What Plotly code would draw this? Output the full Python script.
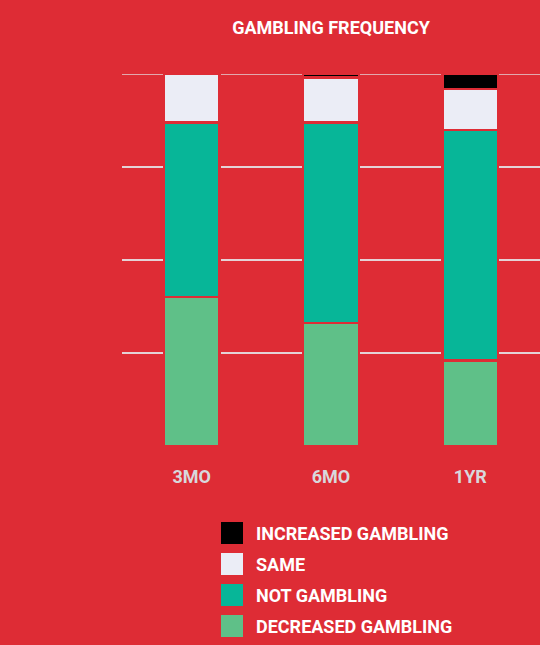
import plotly.graph_objects as go

# Survey follow-up periods
periods = ["3MO", "6MO", "1YR"]

# Share of respondents (%) in each gambling-frequency group
decreased_gambling = [40, 33, 23]
not_gambling = [47, 54, 62]
same = [13, 12, 11]
increased_gambling = [0, 1, 4]

series_names = ["DECREASED GAMBLING", "NOT GAMBLING", "SAME", "INCREASED GAMBLING"]
series_values = [decreased_gambling, not_gambling, same, increased_gambling]
series_colors = ["#5FC088", "#07B698", "#EBEDF6", "#000000"]

BG = "#DE2C35"
GRID = "rgba(228,228,232,0.9)"
FONT = "Roboto, DejaVu Sans Condensed, sans-serif"

W, H = 540, 645
M_L, M_R, M_T, M_B = 122, 0, 74, 199

fig = go.Figure()
for name, vals, col in zip(series_names, series_values, series_colors):
    fig.add_trace(go.Bar(
        x=periods, y=vals, name=name,
        marker=dict(color=col, line=dict(color=BG, width=2.5)),
        width=0.4, showlegend=False,
    ))


def px_x(px):
    return (px - M_L) / (W - M_L - M_R)


def px_y(py):
    return (H - M_B - py) / (H - M_T - M_B)


# Top gridline at 100% (sits on the plot edge, so drawn explicitly)
shapes = [dict(
    type="line", xref="paper", yref="y", x0=0, x1=1, y0=100, y1=100,
    line=dict(color=GRID, width=1.5), layer="below",
)]
annotations = []

# Legend drawn as square swatches with labels, top item first
row_top = 522
row_step = 31
sw = 22
for i, (name, col) in enumerate(zip(reversed(series_names), reversed(series_colors))):
    top = row_top + i * row_step
    shapes.append(dict(
        type="rect", xref="paper", yref="paper",
        x0=px_x(221), x1=px_x(221 + sw), y0=px_y(top + sw), y1=px_y(top),
        fillcolor=col, line=dict(width=0), layer="above",
    ))
    annotations.append(dict(
        xref="paper", yref="paper", x=px_x(254), y=px_y(top + sw / 2),
        text=name, showarrow=False, xanchor="left", yanchor="middle",
        font=dict(family=FONT, size=18, color="white", weight="bold"),
    ))

fig.update_layout(
    width=W, height=H,
    margin=dict(l=M_L, r=M_R, t=M_T, b=M_B, pad=0),
    paper_bgcolor=BG, plot_bgcolor=BG,
    barmode="stack", bargap=0.6,
    title=dict(
        text="GAMBLING FREQUENCY", x=px_x(331), xref="paper", xanchor="center",
        y=1 - 28 / H, yref="container", yanchor="middle",
        font=dict(family=FONT, size=18, color="white", weight="bold"),
    ),
    xaxis=dict(
        range=[-0.5, 2.5], showgrid=False, zeroline=False, showline=False,
        ticks="", ticklabelstandoff=18,
        tickfont=dict(family=FONT, size=18, color="#D8D8DC", weight="bold"),
    ),
    yaxis=dict(
        range=[0, 100], tickvals=[25, 50, 75, 100], showticklabels=False,
        showgrid=True, gridcolor=GRID, gridwidth=1.5,
        zeroline=False, showline=False, ticks="",
    ),
    shapes=shapes, annotations=annotations,
)

fig.write_html("out.html")
